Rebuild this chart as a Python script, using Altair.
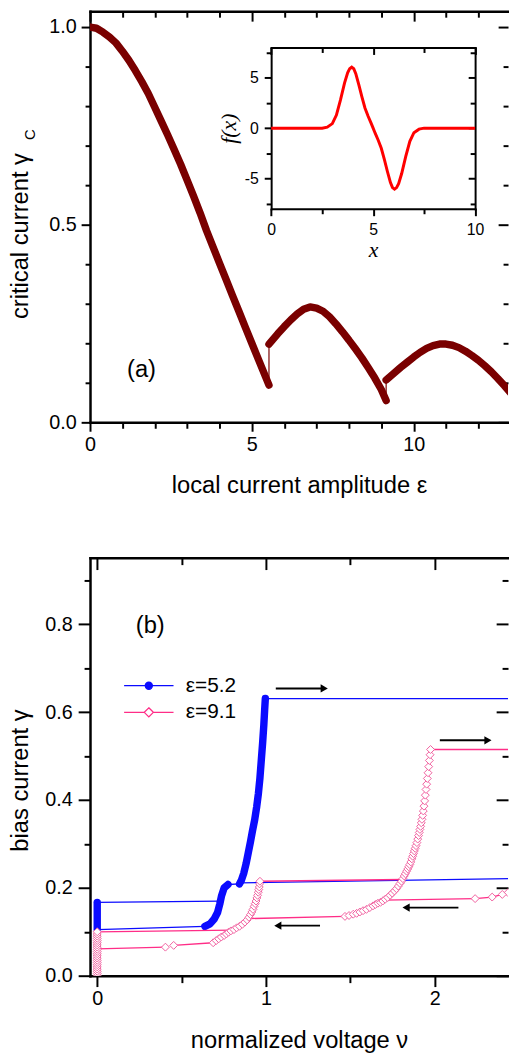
import altair as alt
import pandas as pd

FONT = "Liberation Sans"
SERIF = "Liberation Serif"
MAROON = "#7a0000"
RED = "#ff0000"
BLUE = "#0b0bff"
PINK_LINE = "#ff2d87"
PINK_MARK = "#f0609e"

# ====================== Panel (a): critical current vs epsilon ======================
a_seg1_eps = [0.0, 0.2, 0.4, 0.6, 0.8, 1.0, 1.2, 1.4, 1.6, 1.8, 2.0, 2.2, 2.4, 2.6, 2.8,
              3.0, 3.2, 3.4, 3.6, 3.8, 4.0, 4.2, 4.4, 4.6, 4.8, 5.0, 5.2, 5.4, 5.53]
a_seg1_gc = [1.000, 0.997, 0.987, 0.975, 0.960, 0.939, 0.916, 0.890, 0.862, 0.832, 0.797,
             0.762, 0.727, 0.690, 0.653, 0.613, 0.572, 0.530, 0.485, 0.444, 0.403, 0.362,
             0.321, 0.281, 0.240, 0.200, 0.160, 0.120, 0.094]
a_seg2_eps = [5.53, 5.8, 6.0, 6.2, 6.4, 6.6, 6.8, 7.0, 7.2, 7.4, 7.6, 7.8, 8.0, 8.2, 8.4,
              8.6, 8.8, 9.0, 9.15]
a_seg2_gc = [0.198, 0.224, 0.242, 0.259, 0.274, 0.286, 0.292, 0.289, 0.281, 0.267, 0.249,
             0.229, 0.208, 0.186, 0.163, 0.138, 0.112, 0.083, 0.055]
a_seg3_eps = [9.15, 9.4, 9.6, 9.8, 10.0, 10.2, 10.4, 10.6, 10.8, 11.0, 11.2, 11.4, 11.6,
              11.8, 12.0, 12.2, 12.4, 12.6, 12.8, 13.0]
a_seg3_gc = [0.107, 0.125, 0.139, 0.152, 0.165, 0.177, 0.187, 0.194, 0.198, 0.198, 0.195,
             0.189, 0.180, 0.169, 0.157, 0.143, 0.128, 0.111, 0.093, 0.074]

# inset f(x)
inset_x = [0.0, 0.5, 1.0, 1.5, 2.0, 2.5, 2.75, 3.0, 3.2, 3.4, 3.6, 3.75, 3.85, 3.95, 4.05,
           4.15, 4.3, 4.45, 4.6, 4.75, 4.9, 5.0, 5.1, 5.25, 5.4, 5.55, 5.7, 5.85, 5.95,
           6.05, 6.15, 6.25, 6.4, 6.6, 6.8, 7.0, 7.25, 7.5, 8.0, 8.5, 9.0, 9.5, 10.0]
inset_f = [0, 0, 0, 0, 0, 0.0, 0.1, 0.45, 1.3, 2.8, 4.5, 5.5, 5.9, 6.05, 5.9,
           5.4, 4.3, 3.1, 2.0, 1.2, 0.5, 0.0, -0.5, -1.2, -2.0, -3.1, -4.3, -5.4, -5.9,
           -6.05, -5.9, -5.5, -4.5, -2.8, -1.3, -0.45, -0.1, 0, 0, 0, 0, 0, 0]

a_x_major = [0, 5, 10]
a_x_minor = [1, 2, 3, 4, 6, 7, 8, 9, 11, 12]
a_y_major = [0.0, 0.5, 1.0]
a_y_minor = [0.1, 0.2, 0.3, 0.4, 0.6, 0.7, 0.8, 0.9]
in_x_major = [0, 5, 10]
in_x_minor = [2.5, 7.5]
in_y_major = [-5, 0, 5]
in_y_minor = [-7.5, -2.5, 2.5, 7.5]

label_a = ["(a)"]
label_a_pos = [1.59, 0.1325]

# ====================== Panel (b): IV curves ======================
# eps = 5.2 (blue), dense branches
b_col_v = [0.0, 0.0]
b_col_g = [0.105, 0.167]
b_s1_v = [0.638, 0.668, 0.693, 0.713, 0.726, 0.736, 0.752, 0.775]
b_s1_g = [0.1125, 0.118, 0.129, 0.144, 0.163, 0.181, 0.200, 0.2076]
b_s2_v = [0.843, 0.855, 0.868, 0.882, 0.895, 0.908, 0.920, 0.933, 0.945, 0.955, 0.964,
          0.972, 0.980, 0.987, 0.992, 0.996]
b_s2_g = [0.209, 0.218, 0.233, 0.255, 0.280, 0.305, 0.330, 0.355, 0.385, 0.415, 0.450,
          0.490, 0.530, 0.570, 0.605, 0.631]
# eps = 5.2 switching jumps (thin lines)
b_jump_v = [[0.0, 0.728], [0.775, 0.843], [0.996, 2.6], [2.6, 0.85], [0.638, 0.0]]
b_jump_g = [[0.167, 0.170], [0.2076, 0.209], [0.631, 0.631], [0.222, 0.2115], [0.1125, 0.105]]

# eps = 9.1 (pink)
p_col_g = [0.000, 0.005, 0.010, 0.015, 0.020, 0.025, 0.030, 0.035, 0.040, 0.045, 0.050,
           0.055, 0.060, 0.065, 0.070, 0.075, 0.080, 0.085, 0.090, 0.095, 0.100]
p_s1_v = [0.687, 0.705, 0.720, 0.735, 0.752, 0.765, 0.778, 0.792, 0.810, 0.826, 0.843,
          0.860, 0.875, 0.888, 0.899, 0.908, 0.916, 0.923, 0.930, 0.936, 0.941, 0.946,
          0.950, 0.954, 0.957, 0.960, 0.962, 0.964]
p_s1_g = [0.075, 0.080, 0.084, 0.088, 0.0915, 0.095, 0.099, 0.102, 0.105, 0.109, 0.1125,
          0.117, 0.122, 0.127, 0.133, 0.139, 0.145, 0.151, 0.158, 0.164, 0.170, 0.177,
          0.183, 0.190, 0.196, 0.202, 0.209, 0.215]
p_s2_v = [1.468, 1.492, 1.517, 1.537, 1.556, 1.575, 1.595, 1.615, 1.634, 1.648, 1.663,
          1.678, 1.692, 1.706, 1.721, 1.735, 1.748, 1.761, 1.773, 1.784, 1.794, 1.803,
          1.811, 1.819, 1.826, 1.833, 1.840, 1.846, 1.852, 1.858, 1.864, 1.869, 1.874,
          1.879, 1.884, 1.889, 1.894, 1.899, 1.904, 1.908, 1.912, 1.916, 1.920, 1.924,
          1.928, 1.932, 1.936, 1.940, 1.944, 1.948, 1.952, 1.956, 1.960, 1.964, 1.968,
          1.972, 1.975]
p_s2_g = [0.135, 0.137, 0.140, 0.142, 0.145, 0.148, 0.151, 0.155, 0.159, 0.162, 0.165,
          0.167, 0.170, 0.174, 0.178, 0.183, 0.188, 0.193, 0.198, 0.204, 0.210, 0.215,
          0.221, 0.227, 0.232, 0.238, 0.243, 0.248, 0.253, 0.259, 0.266, 0.272, 0.278,
          0.284, 0.290, 0.296, 0.303, 0.311, 0.319, 0.326, 0.333, 0.340, 0.348, 0.356,
          0.365, 0.375, 0.386, 0.398, 0.411, 0.424, 0.436, 0.449, 0.462, 0.476, 0.490,
          0.503, 0.515]
p_low_v = [0.453, 0.404]
p_low_g = [0.069, 0.065]
p_right_v = [2.6, 2.47, 2.434, 2.40, 2.34, 2.239]
p_right_g = [0.197, 0.193, 0.189, 0.185, 0.179, 0.1755]
p_jump_v = [[0.0, 0.80], [0.964, 1.809], [1.975, 2.6], [2.239, 1.70], [1.468, 0.90],
            [0.687, 0.453], [0.404, 0.0]]
p_jump_g = [[0.100, 0.104], [0.215, 0.219], [0.515, 0.515], [0.1755, 0.172], [0.135, 0.130],
            [0.075, 0.069], [0.065, 0.061]]

arrow_tail = [1.058, 2.03, 1.32, 2.14]
arrow_head = [1.345, 2.315, 1.07, 1.83]
arrow_g = [0.654, 0.536, 0.114, 0.155]
arrow_shape = ["triangle-right", "triangle-right", "triangle-left", "triangle-left"]

label_b = ["(b)"]
label_b_pos = [0.314, 0.795]

legend_names = ["\u03b5=5.2", "\u03b5=9.1"]

b_x_major = [0, 1, 2]
b_x_minor = [0.5, 1.5]
b_y_major = [0.0, 0.2, 0.4, 0.6, 0.8]
b_y_minor = [0.1, 0.3, 0.5, 0.7, 0.9]

# ====================== helpers ======================
WA, HA = 423, 416
WB, HB = 423, 423
TICK_FS = 20


def axis(orient, values, tick, **kw):
    base = dict(orient=orient, values=values, tickSize=tick, tickWidth=2,
                tickColor="black", labels=False, domain=False, grid=False,
                domainColor="black", domainWidth=2.5, domainCap="square", title=None,
                labelFlush=False, labelOverlap=False, labelColor="black",
                labelFont=FONT, titleColor="black", titleFontWeight="normal")
    base.update(kw)
    return alt.Axis(**base)


def seg_frame(segments, xname, yname):
    rows = []
    k = 0
    for s, (xs, ys) in enumerate(segments):
        for x, y in zip(xs, ys):
            rows.append({xname: x, yname: y, "seg": s, "order": k})
            k += 1
    return pd.DataFrame(rows)


# ====================== Panel (a) chart ======================
XA = alt.Scale(domain=[0, 12.916], nice=False, zero=False)
YA = alt.Scale(domain=[0, 1.04], nice=False, zero=False)
IN_L, IN_R, IN_B, IN_T = 183.3, 389.7, 199.9, 36.7
XI = alt.Scale(domain=[0, 10], range=[IN_L, IN_R], nice=False, zero=False)
YI = alt.Scale(domain=[-8, 8], range=[IN_B, IN_T], nice=False, zero=False)

df_a = seg_frame([(a_seg1_eps, a_seg1_gc), (a_seg2_eps, a_seg2_gc), (a_seg3_eps, a_seg3_gc)],
                 "eps", "gc")
df_in = pd.DataFrame({"x": inset_x, "f": inset_f})
df_la = pd.DataFrame({"t": label_a, "x": [label_a_pos[0]], "y": [label_a_pos[1]]})

a_thin = alt.Chart(df_a).mark_line(color=MAROON, strokeWidth=1.2, clip=True).encode(
    x=alt.X("eps:Q", scale=XA, axis=axis(
        "bottom", a_x_major, 9, labels=True, domain=True, labelPadding=4, labelFontSize=TICK_FS,
        format="d", title="local current amplitude  \u03b5", titleFont=FONT, titleFontSize=24,
        titleY=71, titleBaseline="alphabetic")),
    y=alt.Y("gc:Q", scale=YA, axis=axis(
        "left", a_y_major, 9, labels=True, domain=True, labelPadding=5, labelFontSize=TICK_FS,
        format=".1f", title="critical current  \u03b3", titleFont=FONT, titleFontSize=24,
        titleX=-58, titleY=227, titleAngle=270, titleBaseline="bottom", titleAlign="center")),
    order="order:Q",
)
a_thick = alt.Chart(df_a).mark_line(color=MAROON, strokeWidth=7.5, strokeCap="round",
                                    strokeJoin="round", clip=True).encode(
    x=alt.X("eps:Q", scale=XA, axis=axis("bottom", a_x_minor, 6)),
    y=alt.Y("gc:Q", scale=YA, axis=axis("left", a_y_minor, 5)),
    detail="seg:N", order="order:Q",
)
a_text = alt.Chart(df_la).mark_text(font=FONT, fontSize=24, color="black").encode(
    x=alt.X("x:Q", scale=XA, axis=axis("bottom", a_x_major, 10, domain=True, offset=-HA)),
    y=alt.Y("y:Q", scale=YA, axis=axis("left", a_y_major, 10, offset=-WA)),
    text="t:N",
)
a_host = alt.Chart(df_a).mark_point(opacity=0, clip=True).encode(
    x=alt.X("eps:Q", scale=XA, axis=axis("bottom", a_x_minor, 6, offset=-HA)),
    y=alt.Y("gc:Q", scale=YA, axis=axis("left", a_y_minor, 5, offset=-WA)),
)
in_line = alt.Chart(df_in).mark_line(color=RED, strokeWidth=3).encode(
    x=alt.X("x:Q", scale=XI, axis=axis(
        "bottom", in_x_major, 7, labels=True, domain=True, offset=-(HA - IN_B),
        labelPadding=6, labelFontSize=16, format="d", domainWidth=2,
        title="x", titleFont=SERIF, titleFontStyle="italic", titleFontSize=22,
        titlePadding=2)),
    y=alt.Y("f:Q", scale=YI, axis=axis(
        "left", in_y_major, 7, labels=True, domain=True, offset=-IN_L,
        labelPadding=6, labelFontSize=16, format="d", domainWidth=2,
        labelExpr="replace(datum.label, '\u2212', '-')",
        title="f(x)", titleFont=SERIF, titleFontStyle="italic", titleFontSize=22,
        titlePadding=4)),
)
in_host1 = alt.Chart(df_in).mark_point(opacity=0).encode(
    x=alt.X("x:Q", scale=XI, axis=axis("bottom", in_x_minor, 5, offset=-(HA - IN_B))),
    y=alt.Y("f:Q", scale=YI, axis=axis("left", in_y_minor, 5, offset=-IN_L)),
)
in_host2 = alt.Chart(df_in).mark_point(opacity=0).encode(
    x=alt.X("x:Q", scale=XI, axis=axis("bottom", in_x_major, 7, domain=True, domainWidth=2,
                                       offset=-(HA - IN_T))),
    y=alt.Y("f:Q", scale=YI, axis=axis("left", in_y_major, 7, domain=True, domainWidth=2,
                                       offset=-IN_R)),
)
in_host3 = alt.Chart(df_in).mark_point(opacity=0).encode(
    x=alt.X("x:Q", scale=XI, axis=axis("bottom", in_x_minor, 5, offset=-(HA - IN_T))),
    y=alt.Y("f:Q", scale=YI, axis=axis("left", in_y_minor, 5, offset=-IN_R)),
)
sub_c = alt.Chart(pd.DataFrame({"t": ["C"]})).mark_text(
    font=FONT, fontSize=15, angle=270, color="black").encode(
    text="t:N", x=alt.value(-61), y=alt.value(125))

panel_a = alt.layer(a_thin, a_thick, a_text, a_host, in_line, in_host1, in_host2, in_host3,
                    sub_c).resolve_scale(x="independent", y="independent").resolve_axis(
    x="independent", y="independent").properties(width=WA, height=HA)

# ====================== Panel (b) chart ======================
XB = alt.Scale(domain=[-0.0427, 2.4339], nice=False, zero=False)
YB = alt.Scale(domain=[0, 0.9516], nice=False, zero=False)

df_b_thick = seg_frame([(b_col_v, b_col_g), (b_s1_v, b_s1_g), (b_s2_v, b_s2_g)], "v", "g")
df_b_thin = seg_frame(list(zip(b_jump_v, b_jump_g)), "v", "g")
p_col_v = [0.0] * len(p_col_g)
df_p_line = seg_frame([(p_col_v, p_col_g), (p_s1_v, p_s1_g), (p_s2_v, p_s2_g),
                       (p_right_v, p_right_g)] + list(zip(p_jump_v, p_jump_g)), "v", "g")
df_p_pts = pd.DataFrame({
    "v": p_col_v + p_s1_v + p_s2_v + p_low_v + p_right_v[2:],
    "g": p_col_g + p_s1_g + p_s2_g + p_low_g + p_right_g[2:],
})
df_arrow = pd.DataFrame({"x1": arrow_tail, "x2": arrow_head, "g": arrow_g, "shape": arrow_shape})
df_lb = pd.DataFrame({"t": label_b, "x": [label_b_pos[0]], "y": [label_b_pos[1]]})
df_leg = pd.DataFrame({"s": legend_names})

b_thin = alt.Chart(df_b_thin).mark_line(color=BLUE, strokeWidth=1.3, clip=True).encode(
    x=alt.X("v:Q", scale=XB, axis=axis(
        "bottom", b_x_major, 11, labels=True, domain=True, labelPadding=2, labelFontSize=TICK_FS,
        format="d", title="normalized voltage   \u03bd", titleFont=FONT, titleFontSize=24,
        titleY=73, titleBaseline="alphabetic")),
    y=alt.Y("g:Q", scale=YB, axis=axis(
        "left", b_y_major, 12, labels=True, domain=True, labelPadding=6, labelFontSize=TICK_FS,
        format=".1f", title="bias current   \u03b3", titleFont=FONT, titleFontSize=24,
        titleX=-58, titleY=225, titleAngle=270, titleBaseline="bottom", titleAlign="center")),
    detail="seg:N", order="order:Q",
)
b_thick = alt.Chart(df_b_thick).mark_line(color=BLUE, strokeWidth=7.5, strokeCap="round",
                                          strokeJoin="round", clip=True).encode(
    x=alt.X("v:Q", scale=XB, axis=axis("bottom", b_x_minor, 7)),
    y=alt.Y("g:Q", scale=YB, axis=axis("left", b_y_minor, 6)),
    detail="seg:N", order="order:Q",
)
p_line = alt.Chart(df_p_line).mark_line(color=PINK_LINE, strokeWidth=1.3, clip=True).encode(
    x=alt.X("v:Q", scale=XB, axis=axis("bottom", b_x_major, 12, domain=True, offset=-HB)),
    y=alt.Y("g:Q", scale=YB, axis=axis("left", b_y_major, 12, offset=-WB)),
    detail="seg:N", order="order:Q",
)
p_pts = alt.Chart(df_p_pts).mark_point(shape="diamond", filled=True, fill="white",
                                       stroke=PINK_MARK, strokeWidth=1, size=64,
                                       opacity=1, clip=True).encode(
    x=alt.X("v:Q", scale=XB, axis=axis("bottom", b_x_minor, 7, offset=-HB)),
    y=alt.Y("g:Q", scale=YB, axis=axis("left", b_y_minor, 6, offset=-WB)),
)
arr_line = alt.Chart(df_arrow).mark_rule(color="black", strokeWidth=2).encode(
    x=alt.X("x1:Q", scale=XB, axis=None), x2="x2:Q",
    y=alt.Y("g:Q", scale=YB, axis=None),
)
arr_head = alt.Chart(df_arrow).mark_point(filled=True, color="black", size=70, opacity=1).encode(
    x=alt.X("x2:Q", scale=XB, axis=None),
    y=alt.Y("g:Q", scale=YB, axis=None),
    shape=alt.Shape("shape:N", scale=None),
)
b_text = alt.Chart(df_lb).mark_text(font=FONT, fontSize=24, color="black").encode(
    x=alt.X("x:Q", scale=XB, axis=None), y=alt.Y("y:Q", scale=YB, axis=None), text="t:N",
)

PATH_B = "M-6.25,0L6.25,0M-0.9,0A0.9,0.9,0,1,0,0.9,0A0.9,0.9,0,1,0,-0.9,0Z"
PATH_P = "M-6.25,0L-1.15,0M1.15,0L6.25,0M0,-1.15L1.15,0L0,1.15L-1.15,0Z"
leg = alt.Legend(orient="none", legendX=49, legendY=119, title=None, labelFont=FONT,
                 labelFontSize=21, labelColor="black", labelOffset=27, symbolSize=64,
                 symbolStrokeWidth=1.3, rowPadding=5, padding=0)
legend_layer = alt.Chart(df_leg).transform_filter("false").mark_point(
    filled=True, strokeWidth=1.3).encode(
    fill=alt.Fill("s:N", scale=alt.Scale(domain=legend_names, range=[BLUE, "white"]), legend=leg),
    stroke=alt.Stroke("s:N", scale=alt.Scale(domain=legend_names, range=[BLUE, PINK_LINE]),
                      legend=leg),
    shape=alt.Shape("s:N", scale=alt.Scale(domain=legend_names, range=[PATH_B, PATH_P]),
                    legend=leg),
)

panel_b = alt.layer(b_thin, b_thick, p_line, p_pts, arr_line, arr_head, b_text,
                    legend_layer).resolve_scale(x="independent", y="independent").resolve_axis(
    x="independent", y="independent").properties(width=WB, height=HB)

chart = alt.vconcat(panel_a, panel_b, spacing=60).resolve_legend(
    fill="independent", stroke="independent", shape="independent"
).resolve_scale(
    fill="independent", stroke="independent", shape="independent"
).properties(
    padding={"left": 1, "top": -4, "right": 0, "bottom": 0}
).configure(font=FONT).configure_view(stroke=None)

chart.save("out.html", embed_options={"renderer": "svg", "actions": False})
